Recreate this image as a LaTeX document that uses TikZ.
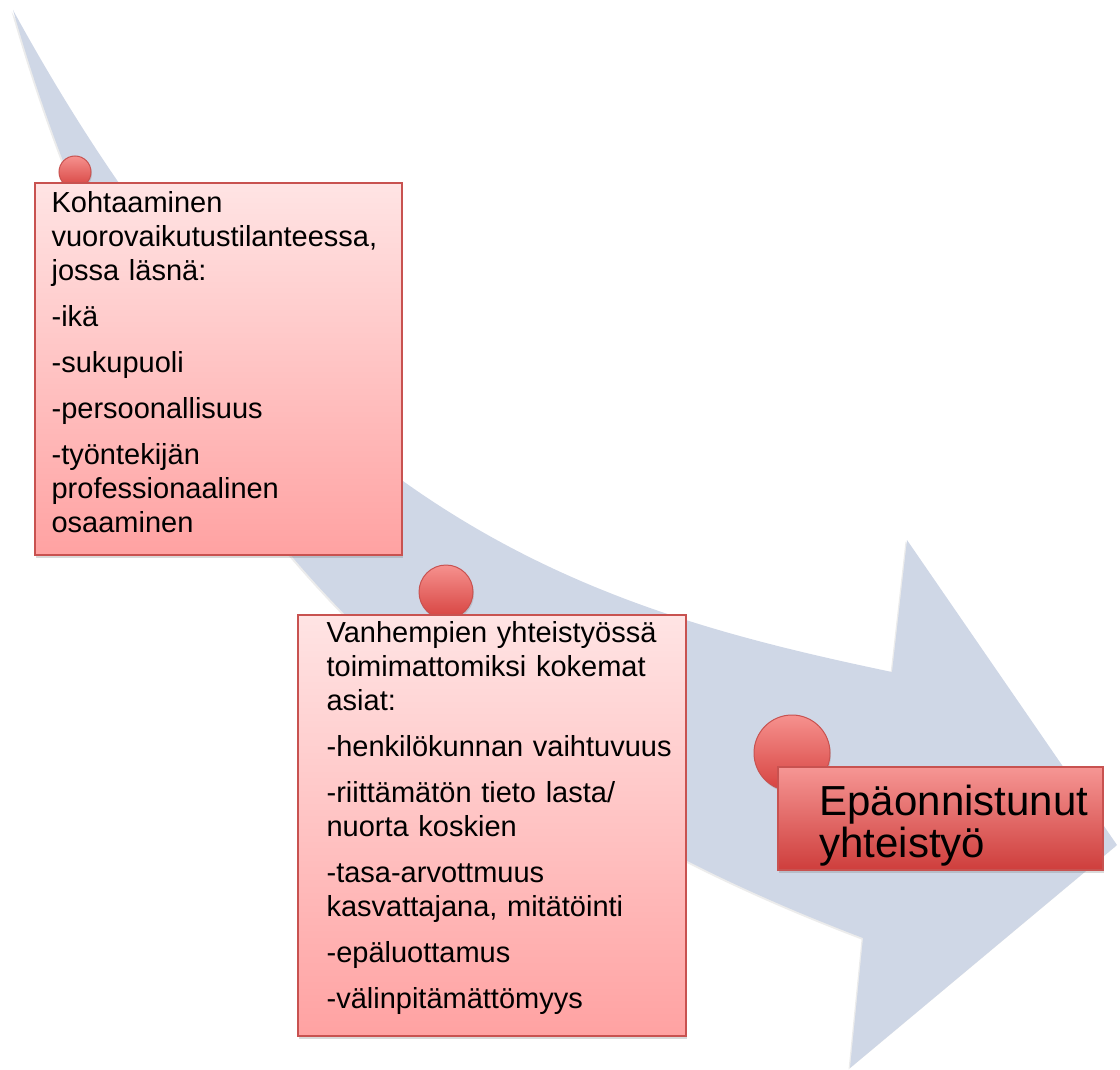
\documentclass[tikz,border=0pt]{standalone}
\usepackage{fontspec}
\setmainfont{Liberation Sans}
\usepackage{xcolor}
\usetikzlibrary{positioning, shadows}

\definecolor{arrowblue}{RGB}{207,215,230}
\definecolor{cardtop}{RGB}{255,228,228}
\definecolor{cardbottom}{RGB}{255,162,162}
\definecolor{cardborder}{RGB}{200,82,80}
\definecolor{goaltop}{RGB}{246,150,148}
\definecolor{goalbottom}{RGB}{206,62,60}
\definecolor{dottop}{RGB}{246,145,142}
\definecolor{dotbottom}{RGB}{214,66,63}

\begin{document}
\begin{tikzpicture}[
        x=1pt, y=-1pt,
        % Shape styles
        bigarrow/.style={fill=arrowblue, draw=none,
                        drop shadow={opacity=0.15, shadow xshift=-1.5pt, shadow yshift=-1.5pt}},
        dot/.style={circle, draw=cardborder, line width=1pt, top color=dottop,
                        bottom color=dotbottom, inner sep=0pt,
                        drop shadow={opacity=0.25, shadow xshift=1pt, shadow yshift=-2pt}},
        card/.style={rectangle, draw=cardborder, line width=1.2pt, top color=cardtop,
                        bottom color=cardbottom, inner sep=0pt,
                        drop shadow={opacity=0.3, shadow xshift=1pt, shadow yshift=-3pt}},
        goal/.style={card, top color=goaltop, bottom color=goalbottom},
        % Text styles
        cardtext/.style={anchor=west, inner sep=0pt, text width=370pt, align=left,
                        font=\fontsize{29}{34}\selectfont},
        goaltext/.style={cardtext, font=\fontsize{42}{42}\selectfont}
    ]
        \useasboundingbox (0,0) rectangle (1120,1070);

        % Outline of the curved arrow
        \coordinate (tip) at (13,10);
        \coordinate (uppernotch) at (892,672);
        \coordinate (headtop) at (907,540);
        \coordinate (headtip) at (1117,845);
        \coordinate (headbottom) at (850,1068);
        \coordinate (lowernotch) at (863,938);

        \fill[bigarrow] (tip) .. controls (293,522) and (592,609) .. (uppernotch)
            -- (headtop) -- (headtip) -- (headbottom) -- (lowernotch)
            .. controls (463,786) and (163,535) .. (tip) -- cycle;

        % Circles on the arrow
        \node[dot, minimum size=32pt] (dot1) at (75,172) {};
        \node[dot, minimum size=54pt] (dot2) at (446,592) {};
        \node[dot, minimum size=76pt] (dot3) at (792,753) {};

        % Boxes
        \node[card, minimum width=367pt, minimum height=372pt] (box1) at (218.5,369) {};
        \node[card, minimum width=388pt, minimum height=421pt] (box2) at (492,825.5) {};
        \node[goal, minimum width=325pt, minimum height=103pt] (box3) at (940.5,818.5) {};

        % Texts in the boxes
        \node[cardtext] (text1) at ([xshift=17pt, yshift=7pt]box1.west)
            {Kohtaaminen\\ vuorovaikutustilanteessa,\\ jossa läsnä:\\[12pt]
             -ikä\\[12pt] -sukupuoli\\[12pt] -persoonallisuus\\[12pt]
             -työntekijän\\ professionaalinen\\ osaaminen};
        \node[cardtext] (text2) at ([xshift=29pt, yshift=8pt]box2.west)
            {Vanhempien yhteistyössä\\ toimimattomiksi kokemat\\ asiat:\\[12pt]
             -henkilökunnan vaihtuvuus\\[12pt]
             -riittämätön tieto lasta/\\ nuorta koskien\\[12pt]
             -tasa-arvottmuus\\ kasvattajana, mitätöinti\\[12pt]
             -epäluottamus\\[12pt] -välinpitämättömyys};
        \node[goaltext] (text3) at ([xshift=42pt, yshift=-7pt]box3.west)
            {Epäonnistunut\\ yhteistyö};
    \end{tikzpicture}
\end{document}
